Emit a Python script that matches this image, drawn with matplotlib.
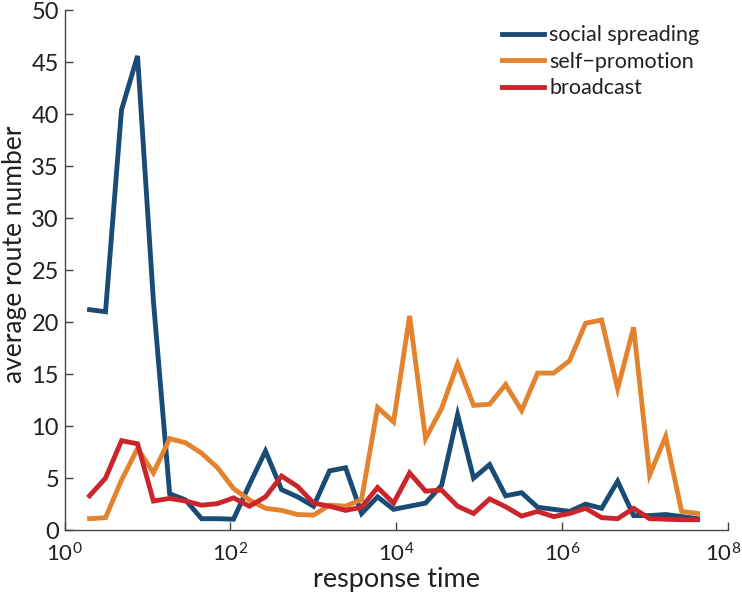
#!/usr/bin/env python3
# -*- coding: utf-8 -*-
"""Average route number vs. response time for three spreading strategies."""

import matplotlib
matplotlib.use("Agg")
import matplotlib.pyplot as plt
import matplotlib.transforms as mtransforms
from matplotlib.ticker import FixedLocator, LogFormatterSciNotation

plt.rcParams["font.family"] = ["Lato", "DejaVu Sans"]
plt.rcParams["mathtext.default"] = "regular"

# response-time bin centres (log spaced)
response_time = [
    2.0, 3.12, 4.86, 7.59, 11.8, 18.5, 28.8, 44.9, 70.0, 109,
    170, 265, 414, 646, 1007, 1570, 2449, 3819, 5957, 9290,
    1.449e4, 2.259e4, 3.524e4, 5.495e4, 8.57e4, 1.337e5, 2.084e5, 3.25e5, 5.07e5, 7.91e5,
    1.233e6, 1.923e6, 3.0e6, 4.68e6, 7.29e6, 1.138e7, 1.774e7, 2.767e7, 4.315e7,
]

social_spreading = [
    21.2, 21.0, 40.4, 45.6, 22.0, 3.5, 2.9, 1.1, 1.1, 1.05,
    4.4, 7.6, 3.9, 3.2, 2.3, 5.7, 6.0, 1.6, 3.2, 2.0,
    2.3, 2.6, 4.3, 11.1, 5.0, 6.3, 3.3, 3.6, 2.2, 2.0,
    1.8, 2.5, 2.1, 4.7, 1.4, 1.4, 1.5, 1.3, 1.1,
]

self_promotion = [
    1.1, 1.2, 4.8, 7.85, 5.5, 8.8, 8.4, 7.4, 6.0, 4.0,
    2.9, 2.1, 1.9, 1.5, 1.45, 2.4, 2.3, 2.95, 11.8, 10.4,
    20.6, 8.8, 11.7, 16.0, 12.0, 12.1, 14.0, 11.5, 15.1, 15.1,
    16.3, 19.9, 20.2, 13.6, 19.5, 5.3, 9.0, 1.8, 1.6,
]

broadcast = [
    3.3, 5.0, 8.6, 8.3, 2.8, 3.05, 2.8, 2.4, 2.55, 3.1,
    2.3, 3.2, 5.2, 4.2, 2.6, 2.3, 1.9, 2.2, 4.1, 2.6,
    5.5, 3.75, 3.85, 2.3, 1.6, 3.0, 2.25, 1.35, 1.8, 1.3,
    1.6, 2.1, 1.2, 1.1, 2.1, 1.1, 1.05, 1.0, 1.0,
]

series = [
    ("social spreading", social_spreading, "#1a4b74"),
    ("self\u2212promotion", self_promotion, "#e3832f"),
    ("broadcast", broadcast, "#c9252b"),
]

fig = plt.figure(figsize=(7.42, 5.97), dpi=100)
ax = fig.add_axes([0.087, 0.112, 0.894, 0.871])

for label, values, color in series:
    ax.plot(response_time, values, color=color, linewidth=3.5, label=label,
            solid_joinstyle="miter")

ax.set_xscale("log")
ax.set_xlim(1, 1e8)
ax.set_ylim(0, 50)
ax.xaxis.set_major_locator(FixedLocator([1, 1e2, 1e4, 1e6, 1e8]))
ax.xaxis.set_major_formatter(LogFormatterSciNotation())
ax.xaxis.set_minor_locator(FixedLocator([]))
ax.set_yticks(range(0, 51, 5))

for side in ("top", "right"):
    ax.spines[side].set_visible(False)
for side in ("left", "bottom"):
    ax.spines[side].set_color("#444444")
    ax.spines[side].set_linewidth(1.0)

ax.tick_params(axis="both", direction="in", length=6, width=1.0, color="#444444",
               labelcolor="#231f20")
ax.tick_params(axis="x", pad=9, labelsize=16)
ax.tick_params(axis="y", pad=4, labelsize=17)

# keep the last decade label inside the canvas
fig.canvas.draw()
last = ax.get_xticklabels()[-1]
last.set_transform(last.get_transform()
                   + mtransforms.ScaledTranslation(-5 / 100, 0, fig.dpi_scale_trans))

ax.set_xlabel("response time", fontsize=19.5, color="#231f20", labelpad=1)
ax.set_ylabel("average route number", fontsize=19, color="#231f20")
ax.yaxis.set_label_coords(-0.056, 0.53)

ax.legend(loc="upper right", bbox_to_anchor=(0.98, 1.0), frameon=False,
          fontsize=15.5, handlelength=1.95, handletextpad=0.25, labelspacing=0.3,
          borderaxespad=0.3, labelcolor="#231f20")

fig.savefig("out.png", dpi=100)
